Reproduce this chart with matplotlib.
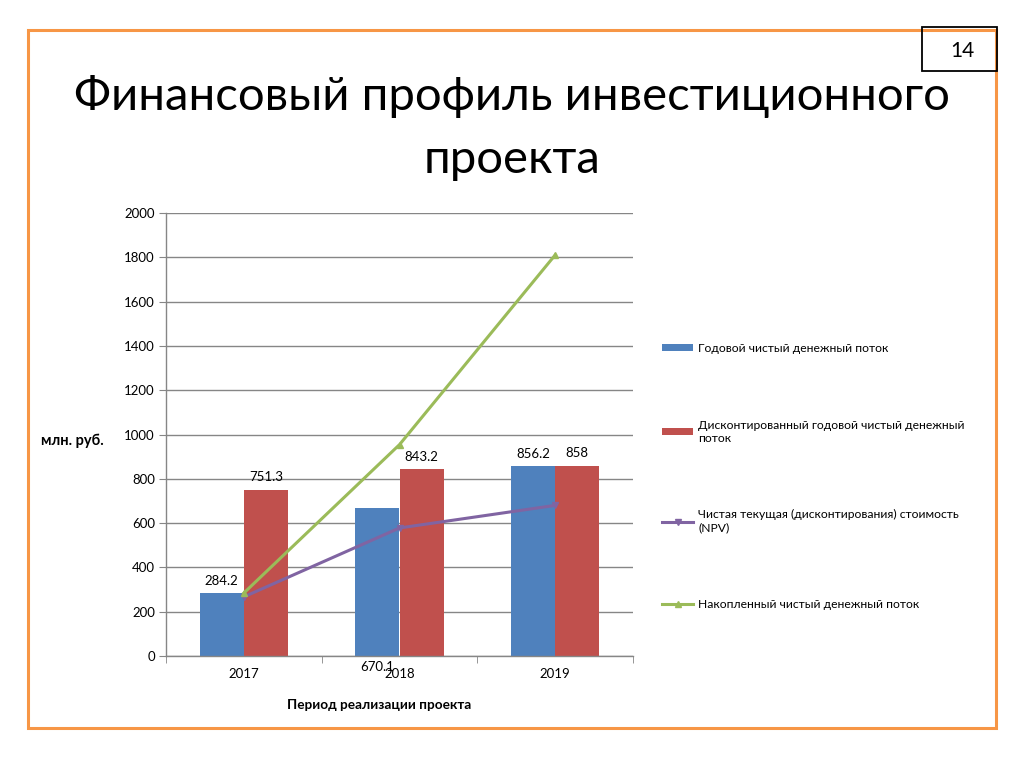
import matplotlib
matplotlib.use("Agg")
import matplotlib.pyplot as plt
from matplotlib.patches import Rectangle
import numpy as np

plt.rcParams['font.family'] = ['Lato', 'DejaVu Sans']

years = ["2017", "2018", "2019"]
annual_cf = [284.2, 670.1, 856.2]
discounted_cf = [751.3, 843.2, 858.0]
npv = [267.0, 578.0, 680.0]
cumulative_cf = [284.2, 954.3, 1810.5]

series_names = [
    "Годовой чистый денежный поток",
    "Дисконтированный годовой чистый денежный\nпоток",
    "Чистая текущая (дисконтирования) стоимость\n(NPV)",
    "Накопленный чистый денежный поток",
]
title_lines = ["Финансовый профиль инвестиционного", "проекта"]
ylabel = "млн. руб."
xlabel = "Период реализации проекта"
page_no = "14"

c_blue = "#4F81BD"
c_red = "#C0504D"
c_purple = "#8064A2"
c_green = "#9BBB59"
c_grid = "#868686"

fig = plt.figure(figsize=(10.24, 7.68), dpi=100)

# slide frame
fig.patches.append(Rectangle((28/1024, 1-728/768), (996-28)/1024, (728-30)/768,
                             transform=fig.transFigure, fill=False,
                             edgecolor="#F79646", linewidth=2.2))
# page number box
fig.patches.append(Rectangle((922/1024, 1-71/768), 75/1024, 44/768,
                             transform=fig.transFigure, fill=False,
                             edgecolor="black", linewidth=1.3, zorder=5))
fig.text(962/1024, 1-51/768, page_no, ha="center", va="center", fontsize=15)

fig.text(512/1024, 1-97/768, title_lines[0], ha="center", va="center", fontsize=34)
fig.text(512/1024, 1-160/768, title_lines[1], ha="center", va="center", fontsize=34)

ax = fig.add_axes([166/1024, 1-656/768, (633-166)/1024, (656-213)/768])
x = np.arange(len(years))
w = 0.283
b1 = ax.bar(x - w/2, annual_cf, w, color=c_blue, label=series_names[0], zorder=2)
b2 = ax.bar(x + w/2, discounted_cf, w, color=c_red, label=series_names[1], zorder=2)
l1, = ax.plot(x, npv, color=c_purple, lw=2.2, marker="v", ms=5,
              label=series_names[2], zorder=3)
l2, = ax.plot(x, cumulative_cf, color=c_green, lw=2.2, marker="^", ms=5,
              label=series_names[3], zorder=3)

ax.set_xlim(-0.5, 2.5)
ax.set_ylim(0, 2000)
ax.set_yticks(np.arange(0, 2001, 200))
ax.yaxis.grid(True, color=c_grid, lw=1)
ax.set_axisbelow(True)
ax.set_xticks(x)
ax.set_xticklabels(years)
ax.set_xticks([-0.5, 0.5, 1.5, 2.5], minor=True)
ax.tick_params(axis="x", which="major", length=0, pad=9, labelsize=9.5)
ax.tick_params(axis="x", which="minor", length=5, color=c_grid, direction="out")
ax.tick_params(axis="y", length=5, color=c_grid, pad=3, labelsize=9.5)
for s in ["top", "right"]:
    ax.spines[s].set_visible(False)
for s in ["left", "bottom"]:
    ax.spines[s].set_color(c_grid)
    ax.spines[s].set_linewidth(1)

# data labels
def lab(xv, yv, txt, off=9):
    ax.annotate(txt, (xv, yv), xytext=(0, off), textcoords="offset points",
                ha="center", va="center", fontsize=9.5)

lab(x[0] - w/2, annual_cf[0], f"{annual_cf[0]:g}")
lab(x[1] - w/2, 0, f"{annual_cf[1]:g}", off=-8)
lab(x[2] - w/2, annual_cf[2], f"{annual_cf[2]:g}")
for i in range(3):
    lab(x[i] + w/2, discounted_cf[i], f"{discounted_cf[i]:g}")

fig.text(72/1024, 1-441/768, ylabel, ha="center", va="center",
         fontsize=10.5, fontweight="bold")
fig.text(379/1024, 1-705/768, xlabel, ha="center", va="center",
         fontsize=9.8, fontweight="bold")

fig.legend(handles=[b1, b2, l1, l2], loc="upper left",
           bbox_to_anchor=(651/1024, 1-332/768), frameon=False,
           fontsize=8.7, labelspacing=5.45, handlelength=2.6,
           handletextpad=0.4, handleheight=0.5)

fig.savefig("out.png", dpi=100)
